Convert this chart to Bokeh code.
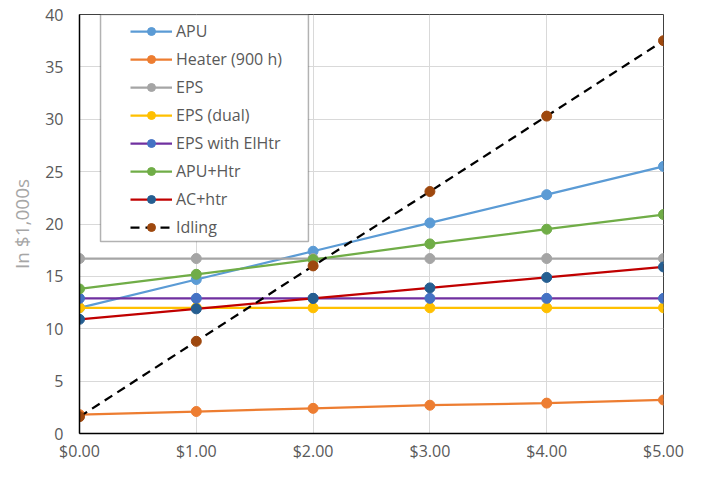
from bokeh.plotting import figure
from bokeh.models import Legend, LegendItem, BoxAnnotation, NumeralTickFormatter, FixedTicker, Range1d
from bokeh.embed import file_html
from bokeh.resources import INLINE

# ---- data ----
fuel_price = [0, 1, 2, 3, 4, 5]
x_ticks = [0, 1, 2, 3, 4, 5]
y_ticks = [0, 5, 10, 15, 20, 25, 30, 35, 40]

apu = [12.0, 14.7, 17.4, 20.1, 22.8, 25.5]
heater = [1.8, 2.1, 2.4, 2.7, 2.9, 3.2]
eps = [16.7, 16.7, 16.7, 16.7, 16.7, 16.7]
eps_dual = [12.0, 12.0, 12.0, 12.0, 12.0, 12.0]
eps_elhtr = [12.9, 12.9, 12.9, 12.9, 12.9, 12.9]
apu_htr = [13.8, 15.2, 16.6, 18.1, 19.5, 20.9]
ac_htr = [10.9, 11.9, 12.9, 13.9, 14.9, 15.9]
idling = [1.6, 8.8, 16.0, 23.1, 30.3, 37.5]

series_names = ["APU", "Heater (900 h)", "EPS", "EPS (dual)", "EPS with ElHtr",
                "APU+Htr", "AC+htr", "Idling"]
series_values = [apu, heater, eps, eps_dual, eps_elhtr, apu_htr, ac_htr, idling]
line_colors = ["#5B9BD5", "#ED7D31", "#A5A5A5", "#FFC000", "#7030A0",
               "#70AD47", "#C00000", "#000000"]
marker_colors = ["#5B9BD5", "#ED7D31", "#A5A5A5", "#FFC000", "#4472C4",
                 "#70AD47", "#255E91", "#9E480E"]
line_dashes = ["solid"] * 7 + ["9 6"]

FONT = "Open Sans"

p = figure(width=685, height=464, output_backend="svg", toolbar_location=None,
           x_range=Range1d(0, 5), y_range=Range1d(0, 40),
           min_border_left=79, min_border_right=22, min_border_top=14, min_border_bottom=24)

p.background_fill_color = "white"
p.border_fill_color = "white"
p.outline_line_color = "#404040"
p.outline_line_width = 1

p.xgrid.grid_line_color = "#d9d9d9"
p.ygrid.grid_line_color = "#d9d9d9"
p.xgrid.grid_line_width = 1
p.ygrid.grid_line_width = 1

p.xaxis.ticker = FixedTicker(ticks=x_ticks)
p.yaxis.ticker = FixedTicker(ticks=y_ticks)
p.xaxis.formatter = NumeralTickFormatter(format="$0.00")

for ax in (p.xaxis, p.yaxis):
    ax.axis_line_color = "black"
    ax.axis_line_width = 1.5
    ax.major_tick_line_color = None
    ax.minor_tick_line_color = None
    ax.major_tick_out = 0
    ax.major_tick_in = 0
    ax.minor_tick_out = 0
    ax.minor_tick_in = 0
    ax.major_label_text_font = FONT
    ax.major_label_text_font_size = "16px"
    ax.major_label_text_color = "#595959"

p.xaxis.major_label_standoff = 6
p.yaxis.major_label_standoff = 16

p.yaxis.axis_label = "In $1,000s"
p.yaxis.axis_label_text_font = FONT
p.yaxis.axis_label_text_font_size = "19px"
p.yaxis.axis_label_text_font_style = "normal"
p.yaxis.axis_label_text_color = "#A6A6A6"
p.yaxis.axis_label_standoff = 7

items = []
for name, vals, lc, mc, dash in zip(series_names, series_values, line_colors, marker_colors, line_dashes):
    lr = p.line(fuel_price, vals, line_color=lc, line_width=2.25, line_dash=dash)
    sr = p.scatter(fuel_price, vals, size=10, fill_color=mc, line_color=mc)
    items.append(LegendItem(label=name, renderers=[lr, sr]))

box = BoxAnnotation(left=0.18, right=1.96, top=40, bottom=18.33,
                    fill_color="white", fill_alpha=1.0,
                    line_color="black", line_width=1.5)
p.add_layout(box)

legend = Legend(items=items, location=(51, 195),
                border_line_alpha=0, background_fill_alpha=0,
                padding=0, margin=0, spacing=6,
                glyph_width=42, glyph_height=20, label_height=20,
                label_standoff=4,
                label_text_font=FONT, label_text_font_size="16px",
                label_text_color="#595959")
p.add_layout(legend)

open("out.html", "w").write(file_html(p, INLINE))
